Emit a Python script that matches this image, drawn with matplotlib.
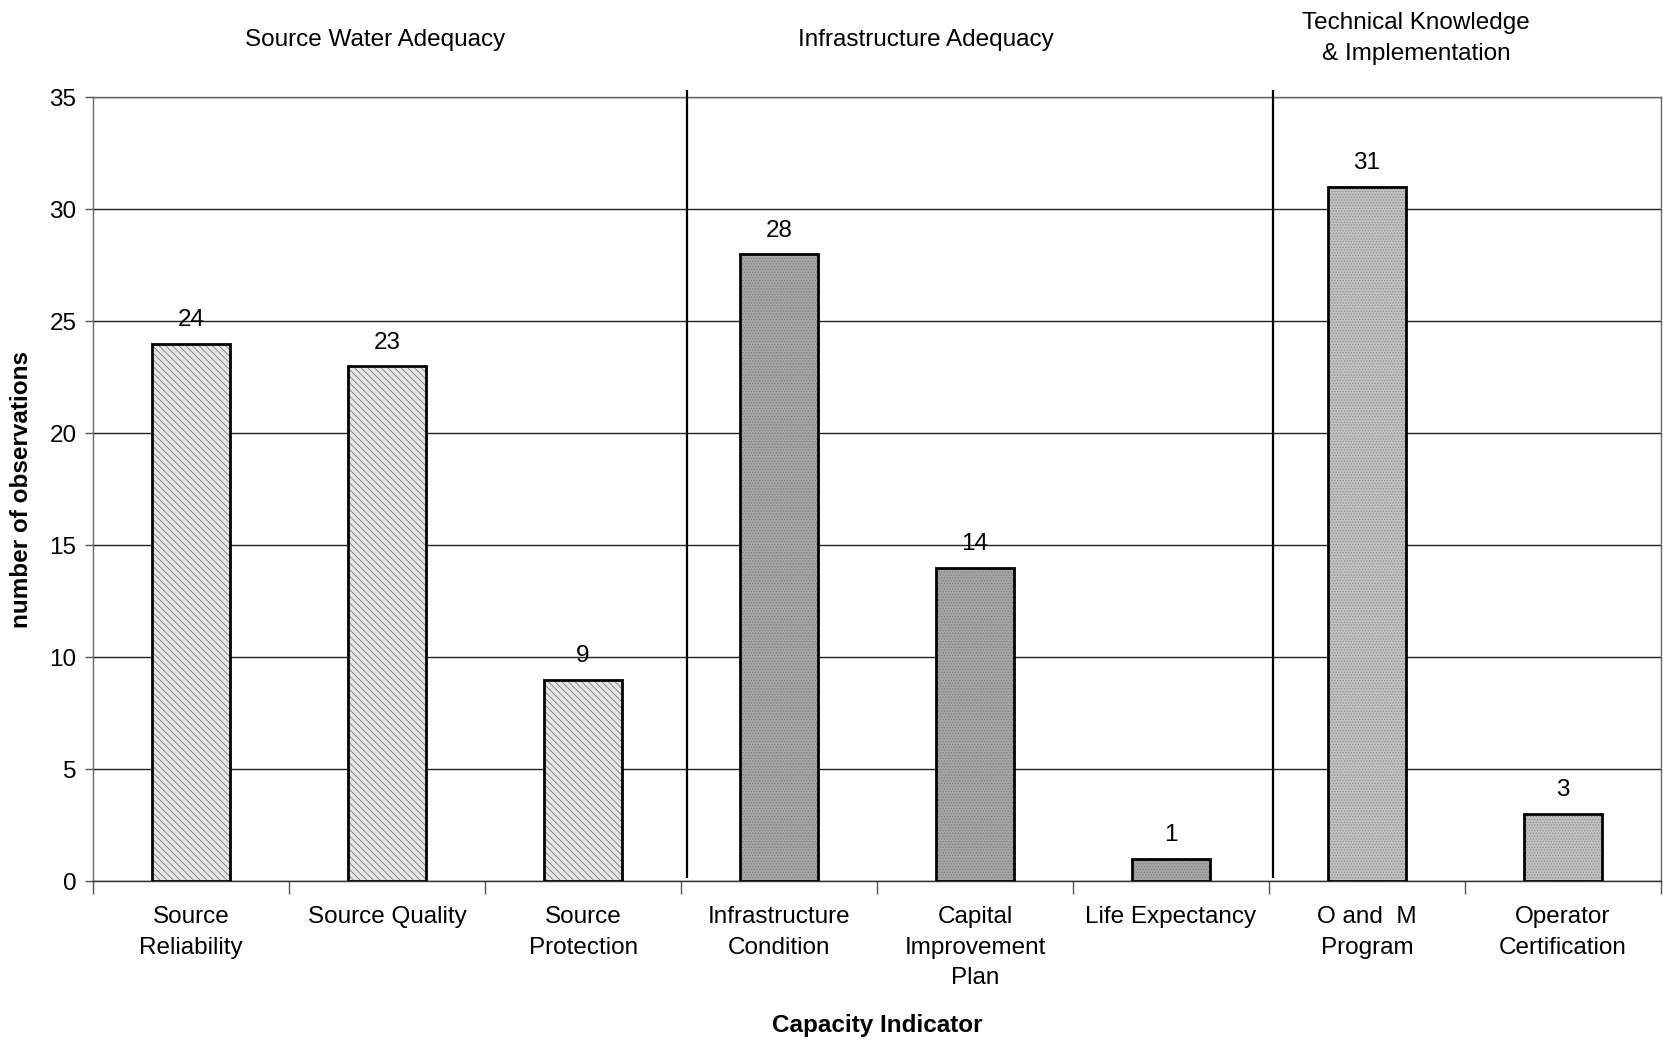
import matplotlib
matplotlib.use("Agg")
import matplotlib.pyplot as plt
from matplotlib.transforms import blended_transform_factory
import numpy as np

# data
categories = ["Source\nReliability", "Source Quality", "Source\nProtection",
              "Infrastructure\nCondition", "Capital\nImprovement\nPlan", "Life Expectancy",
              "O and  M\nProgram", "Operator\nCertification"]
counts = [24, 23, 9, 28, 14, 1, 31, 3]
group_of_bar = [0, 0, 0, 1, 1, 1, 2, 2]
group_names = ["Source Water Adequacy", "Infrastructure Adequacy",
               "Technical Knowledge\n& Implementation"]

plt.rcParams["font.family"] = ["Liberation Sans", "DejaVu Sans"]
FS = 17.5

face = ["#e6e6e6", "#a6a6a6", "#c2c2c2"]
hatch = ["\\\\\\\\\\", "......", "......"]
hatch_col = ["#7a7a7a", "#7d7d7d", "#8a8a8a"]

fig = plt.figure(figsize=(16.63, 10.42), dpi=100)
ax = fig.add_axes([0.056, 0.1545, 0.9428, 0.752])

x = np.arange(len(counts))
for i, (xi, v) in enumerate(zip(x, counts)):
    g = group_of_bar[i]
    plt.rcParams["hatch.color"] = hatch_col[g]
    plt.rcParams["hatch.linewidth"] = 0.6
    ax.bar(xi, v, width=0.4, color=face[g], hatch=hatch[g], linewidth=0, zorder=3)
    ax.bar(xi, v, width=0.4, fill=False, edgecolor="black", linewidth=2, zorder=4)
    ax.annotate(f"{v}", (xi, v), xytext=(0, 9), textcoords="offset points",
                ha="center", va="bottom", fontsize=FS)

ax.set_xlim(-0.5, len(counts) - 0.5)
ax.set_ylim(0, 35)
ax.set_yticks(np.arange(0, 36, 5))
ax.yaxis.grid(True, color="#222222", linewidth=1.0, zorder=0)
ax.set_axisbelow(True)

# category boundaries as major ticks, labels on minor ticks
ax.set_xticks(np.arange(-0.5, len(counts), 1.0))
ax.set_xticklabels([])
ax.set_xticks(x, minor=True)
ax.set_xticklabels(categories, minor=True, fontsize=FS, linespacing=1.5)
ax.tick_params(axis="x", which="major", length=9, width=1, color="#555555", direction="out")
ax.tick_params(axis="x", which="minor", length=0, pad=18)
ax.tick_params(axis="y", length=6, width=1, labelsize=FS, color="#555555", pad=6)

for s in ax.spines.values():
    s.set_color("#666666")
    s.set_linewidth(1.0)
ax.spines["bottom"].set_color("#333333")

# vertical group separators
trans = blended_transform_factory(ax.transData, ax.transAxes)
for bx in [2.53, 5.52]:
    ax.plot([bx, bx], [0.005, 1.008], color="black", linewidth=1.6,
            transform=trans, clip_on=False, zorder=5)

# group headers
for gx, gy, name in zip([0.94, 3.75, 6.25], [1.073, 1.073, 1.075], group_names):
    ax.text(gx, gy, name, transform=trans, ha="center", va="center",
            fontsize=FS, linespacing=1.5)

ax.set_ylabel("number of observations", fontsize=FS, fontweight="bold", labelpad=12)
ax.set_xlabel("Capacity Indicator", fontsize=FS, fontweight="bold", labelpad=18)

fig.savefig("out.png", dpi=100)
